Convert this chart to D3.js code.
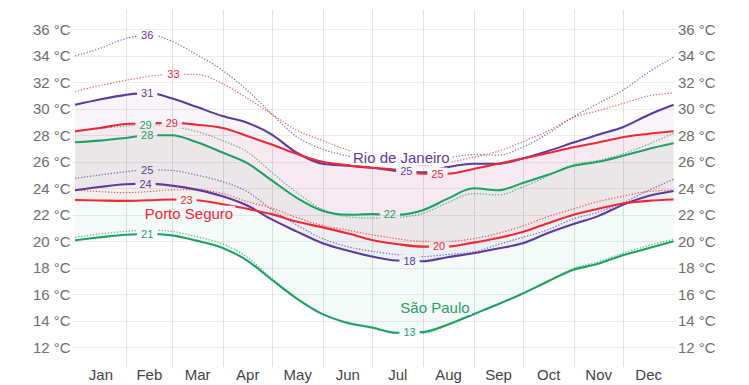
<!DOCTYPE html>
<html>
<head>
<meta charset="utf-8">
<script src="https://cdn.jsdelivr.net/npm/d3@7"></script>
<style>
  html, body { margin: 0; padding: 0; background: #fff; }
  svg { display: block; font-family: "Liberation Sans", Arial, Helvetica, sans-serif; }
</style>
</head>
<body>
<svg id="chart" width="749" height="385"></svg>
<script>
// ---------- DATA ----------
const months = ["Jan","Feb","Mar","Apr","May","Jun","Jul","Aug","Sep","Oct","Nov","Dec"];
const monthStartDays = [0,31,59,90,120,151,181,212,243,273,304,334,365];
const yTicks = [12,14,16,18,20,22,24,26,28,30,32,34,36];

// sample days (day of year)
const days = [0,15,31,45,59,74,90,105,120,135,151,166,181,196,212,227,243,258,273,288,304,319,334,349,365];

// Rio de Janeiro
const rioHigh     = [30.3,30.7,31.05,31.2,30.8,30.15,29.45,28.95,28.05,26.7,25.85,25.7,25.55,25.3,25.2,25.6,25.85,25.85,26.25,26.8,27.45,28.05,28.6,29.5,30.3];
const rioLow      = [23.85,24.1,24.3,24.35,24.2,23.9,23.4,22.7,21.65,20.75,19.85,19.3,18.85,18.55,18.5,18.8,19.1,19.45,19.85,20.6,21.3,21.9,22.75,23.4,23.8];
const rioFeelHigh = [34.0,34.55,35.3,35.6,35.1,34.1,32.9,31.4,29.6,27.9,26.95,26.45,26.15,26.0,26.05,26.3,26.55,26.5,27.1,28.1,29.4,30.4,31.4,32.7,33.9];
const rioFeelLow  = [24.75,25.0,25.25,25.4,25.35,25.0,24.5,23.75,22.4,21.25,20.2,19.6,19.25,19.0,18.85,19.0,19.2,19.75,20.3,20.85,21.7,22.2,22.9,23.8,24.68];

// Porto Seguro
const psHigh      = [28.3,28.55,28.85,28.9,28.95,28.8,28.55,27.95,27.3,26.6,26.0,25.75,25.55,25.4,25.1,25.1,25.45,25.85,26.25,26.65,27.1,27.45,27.85,28.1,28.3];
const psLow       = [23.12,23.08,23.05,23.1,23.15,23.1,22.8,22.45,22.05,21.5,21.05,20.6,20.1,19.8,19.6,19.6,19.9,20.25,20.7,21.35,22.0,22.45,22.85,23.05,23.15];
const psFeelHigh  = [31.3,31.75,32.15,32.45,32.6,32.6,31.9,30.8,29.6,28.4,27.6,26.9,26.35,25.95,25.75,25.95,26.35,26.8,27.5,28.3,29.35,29.85,30.4,30.95,31.2];
const psFeelLow   = [23.87,23.75,23.67,23.75,23.88,23.9,23.6,23.0,22.5,21.8,21.2,20.85,20.5,20.2,20.0,20.0,20.2,20.6,21.15,21.85,22.45,23.0,23.4,23.75,23.87];

// São Paulo
const spHigh      = [27.47,27.6,27.8,28.0,28.0,27.5,26.7,25.9,24.6,23.3,22.3,22.0,22.05,22.0,22.35,23.2,24.0,23.85,24.4,25.0,25.7,26.0,26.45,26.95,27.4];
const spLow       = [20.08,20.3,20.5,20.55,20.45,20.05,19.5,18.55,17.1,15.7,14.5,13.85,13.5,13.1,13.15,13.7,14.5,15.25,16.05,16.95,17.85,18.3,18.95,19.45,20.0];
const spFeelHigh  = [28.27,28.5,28.7,28.8,28.65,28.3,27.6,26.75,25.2,23.7,22.4,21.85,21.75,21.8,22.1,22.9,23.6,23.5,24.1,24.9,25.8,26.1,26.6,27.3,28.15];
const spFeelLow   = [20.3,20.55,20.75,20.85,20.75,20.35,19.8,18.8,17.2,15.75,14.5,13.8,13.45,13.05,13.05,13.65,14.45,15.25,16.1,17.0,17.95,18.45,19.1,19.65,20.15];

const cities = [
  { name: "Rio de Janeiro", color: "#5d3b9f", high: rioHigh, low: rioLow, feelHigh: rioFeelHigh, feelLow: rioFeelLow, labelDay: 199, labelTemp: 26.3 },
  { name: "Porto Seguro",   color: "#ee2836", high: psHigh,  low: psLow,  feelHigh: psFeelHigh,  feelLow: psFeelLow,  labelDay: 69.5, labelTemp: 22.1 },
  { name: "São Paulo",      color: "#1ea262", high: spHigh,  low: spLow,  feelHigh: spFeelHigh,  feelLow: spFeelLow,  labelDay: 219.5, labelTemp: 15.0 }
];

// value annotations: [city index, series key, day, text]
const valueLabels = [
  [0,"high",44,"31"], [0,"high",202,"25"], [0,"low",43,"24"], [0,"low",204,"18"],
  [0,"feelHigh",44,"36"], [0,"feelLow",44,"25"],
  [1,"high",59,"29"], [1,"high",221,"25"], [1,"low",68,"23"], [1,"low",222,"20"],
  [1,"feelHigh",60,"33"],
  [2,"high",44,"28"], [2,"high",192,"22"], [2,"low",44,"21"], [2,"low",204,"13"],
  [2,"feelHigh",43,"29"]
];

// ---------- CHART ----------
const svg = d3.select("#chart");
const x = d3.scaleLinear().domain([0,365]).range([75,673.6]);
const y = d3.scaleLinear().domain([36,12]).range([29.3,347.3]);
const plotTop = 10, plotBottom = 367;

// gridlines
const grid = svg.append("g");
grid.selectAll("line.h").data(yTicks).join("line")
  .attr("x1", 72).attr("x2", 676)
  .attr("y1", d => Math.round(y(d)) + 0.5).attr("y2", d => Math.round(y(d)) + 0.5)
  .attr("stroke", "#ededed").attr("stroke-width", 1);
grid.selectAll("line.v").data(monthStartDays.slice(1, -1)).join("line")
  .attr("x1", d => Math.round(x(d)) + 0.5).attr("x2", d => Math.round(x(d)) + 0.5)
  .attr("y1", plotTop).attr("y2", plotBottom)
  .attr("stroke", "#e3e3e3").attr("stroke-width", 1);

// fills
const fills = svg.append("g");
cities.forEach(c => {
  const area = d3.area().curve(d3.curveMonotoneX)
    .x((d, i) => x(days[i])).y0((d, i) => y(c.low[i])).y1((d, i) => y(c.high[i]));
  fills.append("path").datum(days).attr("d", area)
    .attr("fill", c.color).attr("fill-opacity", 0.05);
});

// mask for label gaps
const defs = svg.append("defs");
const mask = defs.append("mask").attr("id", "labelMask").attr("maskUnits", "userSpaceOnUse")
  .attr("x", 0).attr("y", 0).attr("width", 749).attr("height", 385);
mask.append("rect").attr("x", 0).attr("y", 0).attr("width", 749).attr("height", 385).attr("fill", "#fff");

const lines = svg.append("g").attr("mask", "url(#labelMask)");
const lineGen = key => c => d3.line().curve(d3.curveMonotoneX)
  .x((d, i) => x(days[i])).y((d, i) => y(c[key][i]))(days);

// dotted lines
cities.forEach(c => {
  ["feelHigh","feelLow"].forEach(k => {
    lines.append("path").attr("d", lineGen(k)(c))
      .attr("fill", "none").attr("stroke", c.color).attr("stroke-width", 1.2)
      .attr("stroke-dasharray", "1.3 1.7").attr("stroke-opacity", 0.75);
  });
});
// solid lines
cities.forEach(c => {
  ["high","low"].forEach(k => {
    lines.append("path").attr("d", lineGen(k)(c))
      .attr("fill", "none").attr("stroke", c.color).attr("stroke-width", 2.1)
      .attr("stroke-linejoin", "round");
  });
});

// interpolation helper for label placement
function valueAt(arr, day) {
  const i = d3.bisectRight(days, day) - 1;
  const j = Math.min(i + 1, days.length - 1);
  if (i === j) return arr[i];
  const t = (day - days[i]) / (days[j] - days[i]);
  return arr[i] + t * (arr[j] - arr[i]);
}

const labelG = svg.append("g");
function addMask(node, padX, padY) {
  const b = node.getBBox();
  mask.append("rect").attr("x", b.x - padX).attr("y", b.y - padY)
    .attr("width", b.width + 2 * padX).attr("height", b.height + 2 * padY).attr("fill", "#000");
}

valueLabels.forEach(([ci, key, day, text]) => {
  const c = cities[ci];
  const t = labelG.append("text")
    .attr("x", x(day)).attr("y", y(valueAt(c[key], day)))
    .attr("dy", "0.35em").attr("text-anchor", "middle")
    .attr("font-size", 11).attr("fill", c.color).text(text);
  addMask(t.node(), 4, 0);
});

cities.forEach(c => {
  const t = labelG.append("text")
    .attr("x", x(c.labelDay)).attr("y", y(c.labelTemp))
    .attr("dy", "0.35em").attr("text-anchor", "middle")
    .attr("font-size", 15).attr("fill", c.color).text(c.name);
  addMask(t.node(), 2, -1);
});

// axes
const fmt = d => d + " °C";
const left = svg.append("g").attr("transform", `translate(${x(0)},0)`)
  .call(d3.axisLeft(y).tickValues(yTicks).tickFormat(fmt).tickSize(0).tickPadding(4.3));
const right = svg.append("g").attr("transform", `translate(${x(365)},0)`)
  .call(d3.axisRight(y).tickValues(yTicks).tickFormat(fmt).tickSize(0).tickPadding(4.4));
[left, right].forEach(g => {
  g.select(".domain").remove();
  g.selectAll("text").attr("font-size", 15).attr("fill", "#6e6e6e")
    .attr("font-family", "'Liberation Sans', Arial, sans-serif");
});

const monthMids = months.map((m, i) => (monthStartDays[i] + monthStartDays[i + 1]) / 2);
const bottom = svg.append("g").attr("transform", `translate(0,${plotBottom})`)
  .call(d3.axisBottom(x).tickValues(monthMids).tickFormat((d, i) => months[i]).tickSize(0).tickPadding(2));
bottom.select(".domain").remove();
bottom.selectAll("text").attr("font-size", 15).attr("fill", "#444")
  .attr("font-family", "'Liberation Sans', Arial, sans-serif");
</script>
</body>
</html>
